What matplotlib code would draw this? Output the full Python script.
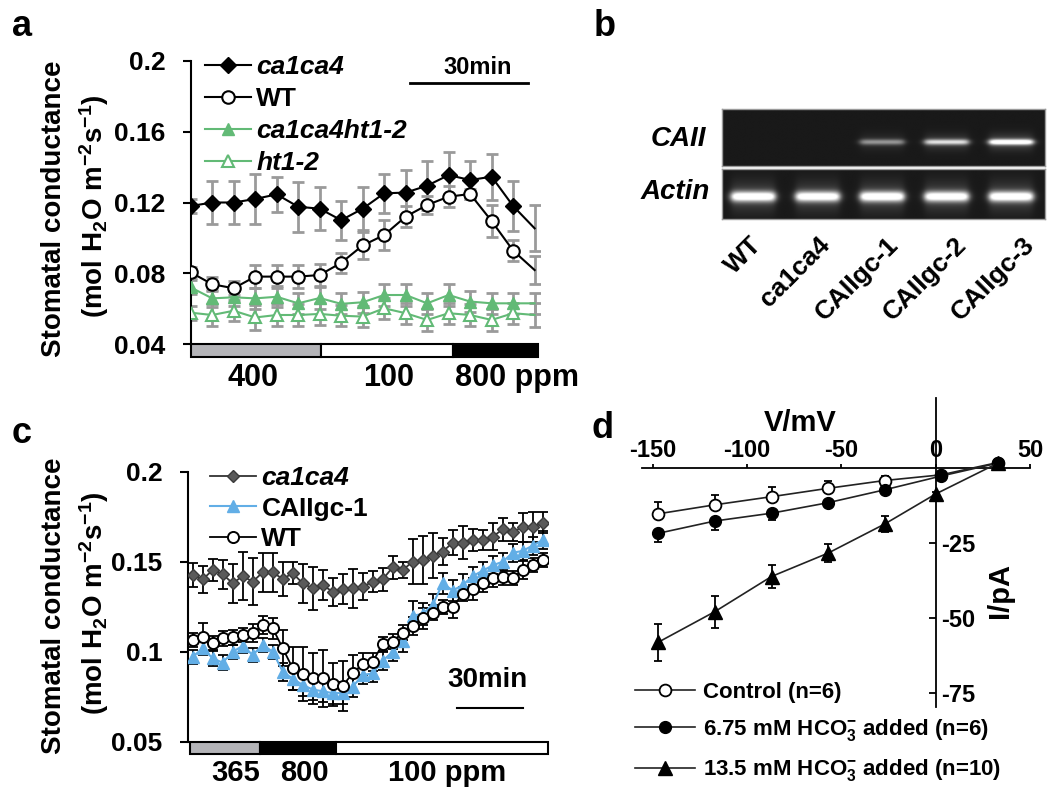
import numpy as np
import matplotlib
matplotlib.use('Agg')
import matplotlib.pyplot as plt
from matplotlib.patches import Rectangle
import matplotlib.transforms as mtransforms

plt.rcParams['font.family'] = ['Liberation Sans', 'DejaVu Sans']
plt.rcParams['font.weight'] = 'bold'
plt.rcParams['mathtext.fontset'] = 'custom'
plt.rcParams['mathtext.rm'] = 'Liberation Sans:bold'
plt.rcParams['mathtext.it'] = 'Liberation Sans:bold:italic'
plt.rcParams['mathtext.bf'] = 'Liberation Sans:bold'
plt.rcParams['axes.unicode_minus'] = False

# ---------------- data ----------------
# panel a: stomatal conductance, 17 time points
a_ca1ca4 = [0.118, 0.120, 0.120, 0.122, 0.1246, 0.1176, 0.1165, 0.110, 0.1165, 0.1252,
            0.1256, 0.1295, 0.1355, 0.1327, 0.1346, 0.118, 0.1054]
a_ca1ca4_err = [0.004, 0.012, 0.012, 0.014, 0.010, 0.014, 0.012, 0.011, 0.012, 0.011,
                0.013, 0.014, 0.013, 0.011, 0.013, 0.014, 0.013]
a_wt = [0.0805, 0.0738, 0.0715, 0.0781, 0.0781, 0.0781, 0.079, 0.0859, 0.0957, 0.1016,
        0.112, 0.1186, 0.1233, 0.1248, 0.1095, 0.0928, 0.0818]
a_wt_err = [0.003, 0.004, 0.004, 0.0066, 0.0066, 0.0066, 0.006, 0.0057, 0.0075, 0.0087,
            0.006, 0.005, 0.006, 0.003, 0.009, 0.006, 0.008]
a_dbl = [0.072, 0.0658, 0.0664, 0.0658, 0.0667, 0.063, 0.066, 0.0627, 0.0636, 0.0677,
         0.0677, 0.063, 0.0677, 0.064, 0.063, 0.063, 0.063]
a_dbl_err = [0.004, 0.005, 0.005, 0.006, 0.006, 0.006, 0.006, 0.006, 0.006, 0.006,
             0.006, 0.006, 0.006, 0.006, 0.006, 0.006, 0.006]
a_ht = [0.0577, 0.0564, 0.0588, 0.055, 0.0564, 0.0564, 0.057, 0.056, 0.0555, 0.0602,
        0.0574, 0.0536, 0.0574, 0.0564, 0.0536, 0.0574, 0.0564]
a_ht_err = [0.004, 0.006, 0.006, 0.007, 0.006, 0.006, 0.006, 0.006, 0.006, 0.006,
            0.006, 0.006, 0.006, 0.006, 0.006, 0.006, 0.007]
a_co2_bounds = [0.0, 6.05, 12.22, 16.15]
a_co2_labels = ['400', '100', '800 ppm']

# panel b: gel band intensities
b_lanes = ['WT', 'ca1ca4', 'CAIIgc-1', 'CAIIgc-2', 'CAIIgc-3']
b_caii = [0.0, 0.0, 0.42, 0.68, 0.95]
b_actin = [0.95, 0.92, 0.95, 0.93, 0.95]

# panel c: 36 time points
c_ca1ca4 = [0.1426, 0.1402, 0.1454, 0.143, 0.138, 0.142, 0.1389, 0.1441, 0.1441, 0.1404,
            0.1436, 0.138, 0.1352, 0.137, 0.1333, 0.1347, 0.1352, 0.1361, 0.1389, 0.1402,
            0.1469, 0.1454, 0.15, 0.1509, 0.1532, 0.1556, 0.1606, 0.1606, 0.162, 0.162,
            0.1639, 0.168, 0.1667, 0.1691, 0.1691, 0.1717]
c_ca1ca4_err = [0.0069, 0.0074, 0.006, 0.008, 0.011, 0.0134, 0.013, 0.011, 0.0108, 0.0093,
                0.006, 0.0107, 0.012, 0.0083, 0.0078, 0.0083, 0.011, 0.0074, 0.006, 0.0065,
                0.0065, 0.0046, 0.0125, 0.0134, 0.0125, 0.0076, 0.007, 0.0093, 0.006, 0.0056,
                0.0074, 0.0065, 0.005, 0.008, 0.0083, 0.006]
c_cagc = [0.0972, 0.1019, 0.0963, 0.0939, 0.1, 0.1032, 0.0982, 0.1037, 0.1, 0.089,
          0.085, 0.0815, 0.079, 0.078, 0.077, 0.077, 0.0806, 0.087, 0.088, 0.095,
          0.1, 0.106, 0.12, 0.121, 0.126, 0.138, 0.134, 0.137, 0.142, 0.145,
          0.148, 0.15, 0.155, 0.156, 0.159, 0.162]
c_cagc_err = [0.004, 0.004, 0.004, 0.004, 0.004, 0.004, 0.004, 0.004, 0.004, 0.005,
              0.006, 0.006, 0.006, 0.006, 0.006, 0.006, 0.006, 0.005, 0.005, 0.005,
              0.005, 0.006, 0.008, 0.006, 0.006, 0.006, 0.006, 0.006, 0.005, 0.005,
              0.005, 0.005, 0.005, 0.005, 0.005, 0.005]
c_wt = [0.1065, 0.108, 0.105, 0.1074, 0.108, 0.1093, 0.1102, 0.1148, 0.113, 0.1019,
        0.0908, 0.0876, 0.0852, 0.0852, 0.0819, 0.0811, 0.088, 0.0932, 0.0944, 0.1043,
        0.1056, 0.1106, 0.1143, 0.1185, 0.1217, 0.125, 0.125, 0.132, 0.1347, 0.138,
        0.1408, 0.1413, 0.1408, 0.1454, 0.1482, 0.1509]
c_wt_err = [0.004, 0.008, 0.004, 0.004, 0.004, 0.004, 0.005, 0.005, 0.006, 0.01,
            0.012, 0.015, 0.014, 0.016, 0.012, 0.014, 0.01, 0.006, 0.005, 0.004,
            0.004, 0.004, 0.005, 0.006, 0.004, 0.004, 0.006, 0.004, 0.006, 0.005,
            0.005, 0.004, 0.004, 0.005, 0.004, 0.004]
c_co2_bounds = [-0.27, 6.7, 14.3, 35.5]
c_co2_labels = ['365', '800', '100 ppm']

# panel d: I-V curves
d_v = [-147, -117, -87, -57, -27, 3, 33]
d_v_135 = [-147, -117, -87, -57, -27, 0, 33]
d_ctrl = [-15.3, -12.3, -9.6, -6.8, -4.2, -2.3, 1.8]
d_ctrl_err = [3.8, 3.3, 3.1, 2.6, 1.6, 0.0, 1.0]
d_675 = [-21.8, -17.7, -15.1, -11.6, -7.3, -2.7, 1.6]
d_675_err = [2.8, 3.0, 2.2, 1.5, 1.0, 0.5, 0.5]
d_135 = [-58.1, -47.9, -36.2, -28.4, -18.7, -8.7, 1.6]
d_135_err = [6.1, 5.3, 3.9, 3.0, 2.7, 0.8, 0.5]

GREEN = '#62ba76'
BLUE = '#62aee6'

W, H = 1050, 799
fig = plt.figure(figsize=(W / 100, H / 100), dpi=100)


def box(x0, y0, x1, y1):
    return [x0 / W, 1 - y1 / H, (x1 - x0) / W, (y1 - y0) / H]


def ftext(x, y, s, **kw):
    kw.setdefault('ha', 'center')
    kw.setdefault('va', 'center')
    kw.setdefault('fontweight', 'bold')
    fig.text(x / W, 1 - y / H, s, **kw)


def fline(x0, x1, y, lw):
    fig.add_artist(plt.Line2D([x0 / W, x1 / W], [1 - y / H, 1 - y / H],
                              color='black', lw=lw, transform=fig.transFigure))


def style_time_axis(ax, ticks, labels):
    for s in ['top', 'right', 'bottom']:
        ax.spines[s].set_visible(False)
    ax.spines['left'].set_linewidth(1.5)
    ax.set_xticks([])
    ax.set_yticks(ticks)
    ax.set_yticklabels(labels)
    ax.tick_params(axis='y', direction='out', length=6, width=1.5, pad=12, labelsize=19)
    ax.patch.set_alpha(0)


def co2_bar(ax, bounds, colors):
    trans = mtransforms.blended_transform_factory(ax.transData, ax.transAxes)
    for k in range(len(bounds) - 1):
        ax.add_patch(Rectangle((bounds[k], -0.046), bounds[k + 1] - bounds[k], 0.046,
                               transform=trans, facecolor=colors[k], edgecolor='black',
                               lw=1.5, clip_on=False, zorder=5))


# ---------------- panel a ----------------
axa = fig.add_axes(box(190.7, 61, 540, 344))
xa = np.arange(len(a_ca1ca4))
axa.set_xlim(0, 16.25)
axa.set_ylim(0.04, 0.2)
eb = dict(fmt='none', ecolor='#9a9a9a', elinewidth=2, capsize=4, capthick=2, zorder=1)
for ys, es in [(a_ca1ca4, a_ca1ca4_err), (a_wt, a_wt_err), (a_dbl, a_dbl_err), (a_ht, a_ht_err)]:
    axa.errorbar(xa, ys, yerr=es, **eb)
mk = slice(0, 16)
h1, = axa.plot(xa, a_ca1ca4, '-', color='black', lw=1.5, marker='D', ms=8, mfc='black',
               mec='black', markevery=mk, zorder=4, label='ca1ca4')
h2, = axa.plot(xa, a_wt, '-', color='black', lw=1.5, marker='o', ms=9, mfc='white',
               mec='black', mew=1.5, markevery=mk, zorder=4, label='WT')
h3, = axa.plot(xa, a_dbl, '-', color=GREEN, lw=1.5, marker='^', ms=9, mfc=GREEN,
               mec=GREEN, markevery=mk, zorder=3, label='ca1ca4ht1-2')
h4, = axa.plot(xa, a_ht, '-', color=GREEN, lw=1.5, marker='^', ms=9, mfc='white',
               mec=GREEN, mew=1.5, markevery=mk, zorder=3, label='ht1-2')
style_time_axis(axa, [0.04, 0.08, 0.12, 0.16, 0.2], ['0.04', '0.08', '0.12', '0.16', '0.2'])
co2_bar(axa, a_co2_bounds, ['#b4b4b8', 'white', 'black'])
leg = axa.legend(handles=[h1, h2, h3, h4], loc='upper left', frameon=False,
                 bbox_to_anchor=(205 / W, 1 - 55 / H), bbox_transform=fig.transFigure,
                 borderpad=0, borderaxespad=0, handlelength=1.75, handletextpad=0.2,
                 labelspacing=0.3, prop={'size': 19, 'weight': 'bold'})
for t in leg.get_texts():
    if t.get_text() != 'WT':
        t.set_fontstyle('italic')

ftext(22, 26, 'a', fontsize=26)
ftext(54, 209, 'Stomatal conductance', rotation=90, fontsize=20)
ftext(94, 206, '(mol H$_2$O m$^{-2}$s$^{-1}$)', rotation=90, fontsize=20)
ftext(478, 68, '30min', fontsize=17)
fline(410, 528, 83, 2)
ftext(253, 378, a_co2_labels[0], fontsize=22)
ftext(389, 378, a_co2_labels[1], fontsize=22)
ftext(455, 378, a_co2_labels[2], fontsize=22, ha='left')

# ---------------- panel b ----------------
def gel_image(levels, yc, sy):
    xs = np.linspace(0, 5, 500)
    ys = np.linspace(0, 1, 120)
    X, Y = np.meshgrid(xs, ys)
    img = np.full(X.shape, 0.1)
    for k, lev in enumerate(levels):
        c = k + 0.48
        hx = 1 / (1 + np.exp((np.abs(X - c) - 0.34) / 0.03))
        img += lev * hx * np.exp(-((Y - yc) / sy) ** 2)
        img += 0.18 * lev * hx * np.exp(-((Y - yc) / (sy * 3)) ** 2)
    return np.clip(img, 0, 1)


for (y0, y1), levels, yc, sy in [((109, 166), b_caii, 0.58, 0.05),
                                 ((169, 219.3), b_actin, 0.56, 0.1)]:
    axg = fig.add_axes(box(722.3, y0, 1045, y1))
    axg.imshow(gel_image(levels, yc, sy), cmap='gray', vmin=0, vmax=1,
               extent=(0, 5, 1, 0), aspect='auto', interpolation='bilinear')
    axg.set_xticks([])
    axg.set_yticks([])
    for s in axg.spines.values():
        s.set_color('#9a9a9a')
        s.set_linewidth(1)

ftext(706, 139, 'CAII', fontsize=20, ha='right', style='italic')
ftext(710, 192, 'Actin', fontsize=20, ha='right', style='italic')
lab_end = [758, 826, 895, 963, 1031]
for name, xe in zip(b_lanes, lab_end):
    ftext(xe, 241, name, fontsize=19, rotation=45, rotation_mode='anchor',
          ha='right', va='center')
ftext(605, 26, 'b', fontsize=26)

# ---------------- panel c ----------------
axc = fig.add_axes(box(187.7, 471.7, 547.7, 741.7))
xc = np.arange(len(c_ca1ca4))
axc.set_xlim(-0.5, 35.5)
axc.set_ylim(0.05, 0.2)
ebc = dict(fmt='none', ecolor='black', elinewidth=1.3, capsize=3.5, capthick=1.3)
axc.errorbar(xc, c_ca1ca4, yerr=c_ca1ca4_err, zorder=1, **ebc)
axc.errorbar(xc, c_cagc, yerr=c_cagc_err, zorder=1, **ebc)
axc.errorbar(xc, c_wt, yerr=c_wt_err, zorder=1, **ebc)
g1, = axc.plot(xc, c_ca1ca4, '-', color='#333333', lw=1.3, marker='D', ms=6.5,
               mfc='#5a5a5a', mec='#3a3a3a', zorder=3, label='ca1ca4')
g2, = axc.plot(xc, c_cagc, '-', color=BLUE, lw=1.5, marker='^', ms=8.5,
               mfc=BLUE, mec=BLUE, zorder=3, label='CAIIgc-1')
g3, = axc.plot(xc, c_wt, '-', color='black', lw=1.3, marker='o', ms=8,
               mfc='white', mec='black', mew=1.4, zorder=4, label='WT')
style_time_axis(axc, [0.05, 0.1, 0.15, 0.2], ['0.05', '0.1', '0.15', '0.2'])
co2_bar(axc, c_co2_bounds, ['#b4b4b8', 'black', 'white'])
legc = axc.legend(handles=[g1, g2, g3], loc='upper left', frameon=False,
                  bbox_to_anchor=(210 / W, 1 - 466 / H), bbox_transform=fig.transFigure,
                  borderpad=0, borderaxespad=0, handlelength=1.75, handletextpad=0.2,
                  labelspacing=0.25, prop={'size': 19, 'weight': 'bold'})
legc.get_texts()[0].set_fontstyle('italic')

ftext(22, 433, 'c', fontsize=26)
ftext(54, 606, 'Stomatal conductance', rotation=90, fontsize=20)
ftext(94, 603, '(mol H$_2$O m$^{-2}$s$^{-1}$)', rotation=90, fontsize=20)
ftext(487, 680, '30min', fontsize=20)
fline(457, 523, 708, 1.5)
ftext(236, 773, c_co2_labels[0], fontsize=21)
ftext(304, 773, c_co2_labels[1], fontsize=21)
ftext(447, 773, c_co2_labels[2], fontsize=21)

# ---------------- panel d ----------------
axd = fig.add_axes(box(641.7, 398, 1030, 706.7))
axd.set_xlim(-155.8, 49.7)
axd.set_ylim(-79.6, 23.3)
axd.patch.set_alpha(0)
axd.spines['left'].set_visible(False)
axd.spines['bottom'].set_visible(False)
axd.spines['top'].set_position(('data', 0))
axd.spines['right'].set_position(('data', 0))
axd.spines['top'].set_linewidth(1.3)
axd.spines['right'].set_linewidth(1.3)
axd.xaxis.set_ticks_position('top')
axd.yaxis.set_ticks_position('right')
axd.set_xticks([-150, -100, -50, 0, 50])
axd.set_yticks([-25, -50, -75])
axd.tick_params(axis='x', direction='out', length=3, width=1.3, pad=1, labelsize=17)
axd.tick_params(axis='y', direction='in', length=5, width=1.3, pad=4, labelsize=17)

ebd = dict(fmt='none', ecolor='black', elinewidth=1.3, capsize=3, capthick=1.3, zorder=1)
axd.errorbar(d_v, d_ctrl, yerr=[[0] * 7, d_ctrl_err], **ebd)
axd.errorbar(d_v, d_675, yerr=[d_675_err, [0] * 7], **ebd)
axd.errorbar(d_v_135, d_135, yerr=d_135_err, **ebd)
k1, = axd.plot(d_v, d_ctrl, '-', color='#222222', lw=1.2, marker='o', ms=8.5,
               mfc='white', mec='black', mew=1.3, zorder=3, label='Control (n=6)')
k2, = axd.plot(d_v, d_675, '-', color='#222222', lw=1.2, marker='o', ms=8.5,
               mfc='black', mec='black', zorder=3,
               label='6.75 mM HCO$_3^{-}$ added (n=6)')
k3, = axd.plot(d_v_135, d_135, '-', color='#222222', lw=1.2, marker='^', ms=9.5,
               mfc='black', mec='black', zorder=3,
               label='13.5 mM HCO$_3^{-}$ added (n=10)')
fig.legend(handles=[k1, k2, k3], loc='upper left', frameon=False,
           bbox_to_anchor=(635 / W, 1 - 682 / H), bbox_transform=fig.transFigure,
           borderpad=0, borderaxespad=0, handlelength=2.7, handletextpad=0.35,
           labelspacing=0.64, prop={'size': 16, 'weight': 'bold'})

ftext(603, 428, 'd', fontsize=26)
ftext(800, 423, 'V/mV', fontsize=21)
ftext(1000, 590, 'I/pA', fontsize=21, rotation=90)

fig.savefig('out.png', dpi=100)
